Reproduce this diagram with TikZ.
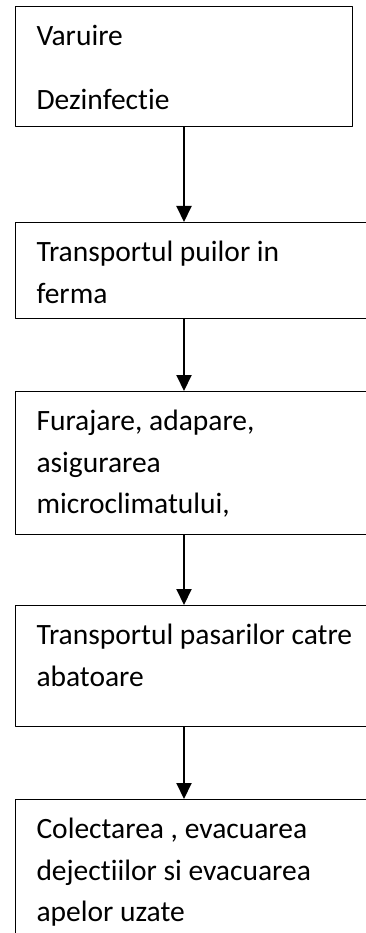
\documentclass[tikz,border=0pt]{standalone}
\usepackage{fontspec}
\setmainfont{Carlito}[RawFeature=-liga]
\usetikzlibrary{arrows.meta}
\newcommand{\boxtext}[3]{\parbox[t][#1][t]{#2}{\rule{0pt}{39pt}#3}}
\begin{document}
\begin{tikzpicture}[>={Triangle[width=15pt,length=16pt]},line join=bevel,x=1pt,y=-1pt,
  box/.style={draw,line width=1pt,anchor=north west,inner xsep=21pt,inner ysep=0pt,
    font=\fontsize{29.5}{41.5}\selectfont}]
%%
  \useasboundingbox (0,0) rectangle (365,933);
  \node [box] (node_0) at (15,6) {\boxtext{120pt}{295pt}{Varuire\\[23pt]Dezinfectie}};
  \node [box] (node_1) at (15,222) {\boxtext{96pt}{330pt}{Transportul puilor in\\ferma}};
  \node [box] (node_2) at (15,391) {\boxtext{143pt}{330pt}{Furajare, adapare,\\asigurarea\\microclimatului,}};
  \node [box] (node_3) at (15,605) {\boxtext{121pt}{330pt}{Transportul pasarilor catre\\abatoare}};
  \node [box] (node_4) at (15,799) {\boxtext{160pt}{330pt}{Colectarea , evacuarea\\dejectiilor si evacuarea\\apelor uzate}};
  \draw  [black,->,line width=2pt] (node_0.south) -- (node_0.south |- node_1.north);
  \draw  [black,->,line width=2pt] (node_0.south |- node_1.south) -- (node_0.south |- node_2.north);
  \draw  [black,->,line width=2pt] (node_0.south |- node_2.south) -- (node_0.south |- node_3.north);
  \draw  [black,->,line width=2pt] (node_0.south |- node_3.south) -- (node_0.south |- node_4.north);
\end{tikzpicture}
\end{document}
